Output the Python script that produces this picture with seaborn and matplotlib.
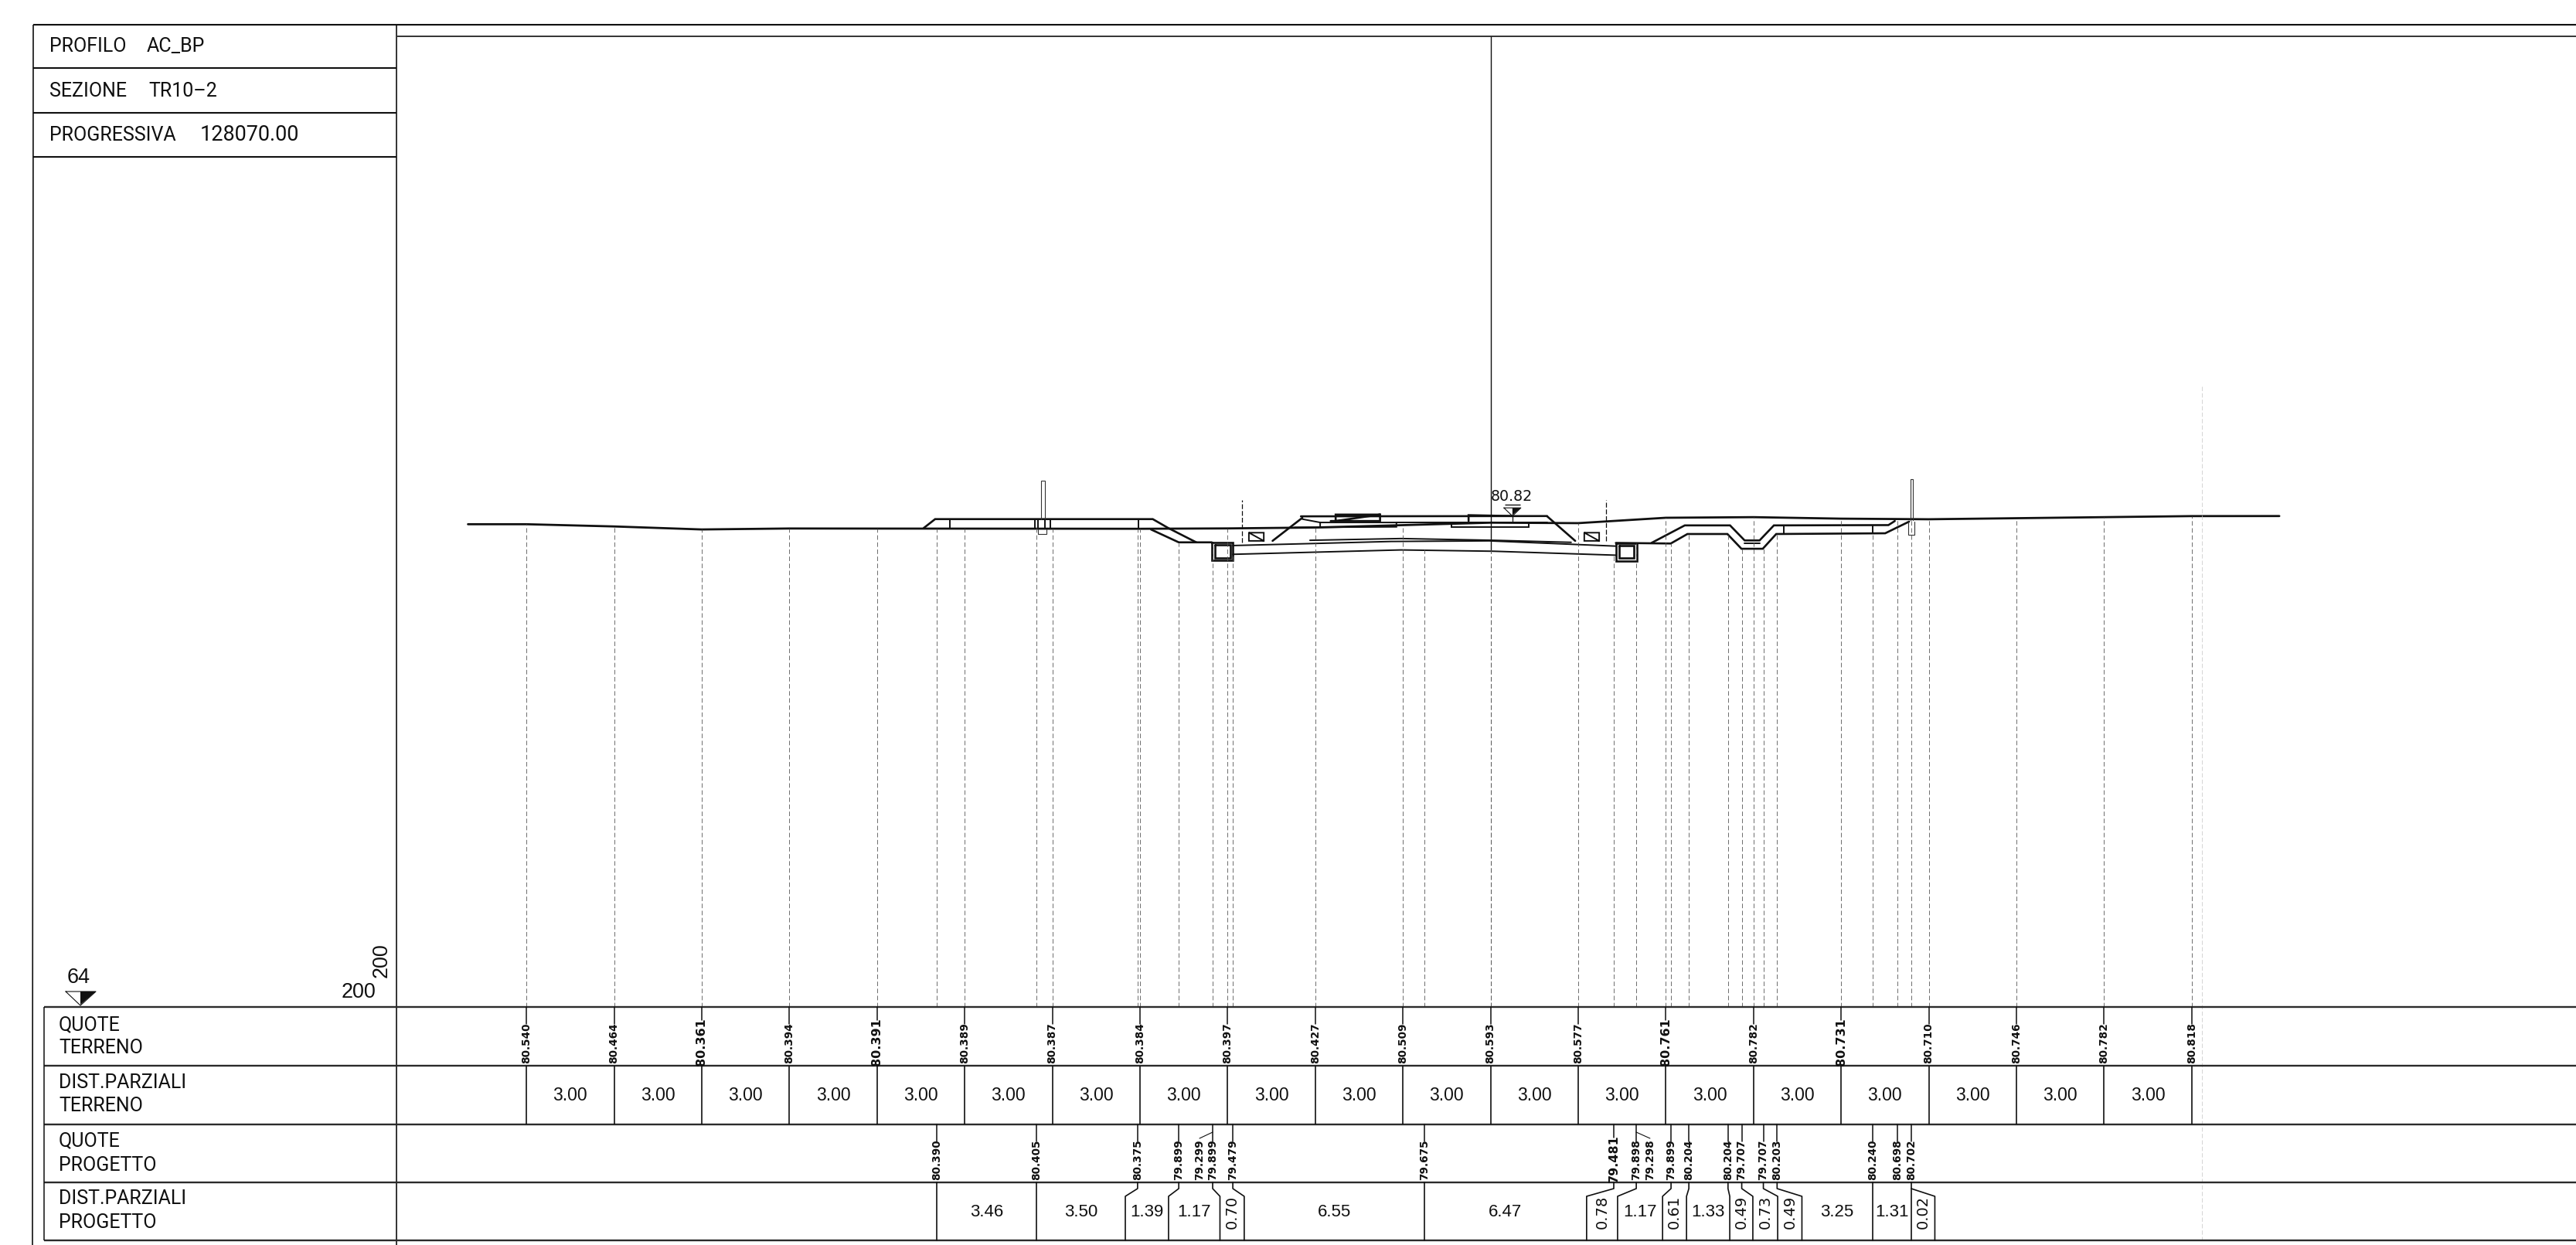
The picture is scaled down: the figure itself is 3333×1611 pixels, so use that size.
import matplotlib
matplotlib.use("Agg")
import matplotlib.pyplot as plt
import seaborn as sns
import pandas as pd

# Sezione trasversale: offset dall'asse in metri, quote in metri
terrain_x = [-33, -30, -27, -24, -21, -18, -15, -12, -9, -6, -3, 0, 3, 6, 9, 12, 15, 18, 21, 24]
terrain_z = [80.540, 80.464, 80.361, 80.394, 80.391, 80.389, 80.387, 80.384, 80.397, 80.427,
             80.509, 80.593, 80.577, 80.761, 80.782, 80.731, 80.710, 80.746, 80.782, 80.818]
terrain_labels = ["80.540", "80.464", "80.361", "80.394", "80.391", "80.389", "80.387", "80.384",
                  "80.397", "80.427", "80.509", "80.593", "80.577", "80.761", "80.782", "80.731",
                  "80.710", "80.746", "80.782", "80.818"]
big_labels = ["80.361", "80.391", "80.761", "80.731", "79.481"]
terrain_dist = [3.00] * 19
ground_start = (-35.0, 80.54)
ground_end = (27.0, 80.82)

project_x = [-18.95, -15.53, -12.08, -10.67, -9.51, -8.82, -2.26, 4.22, 4.99, 6.18, 6.79,
             8.13, 8.60, 9.34, 9.81, 13.08, 13.92, 14.40]
project_z = [80.390, 80.405, 80.375, 79.899, 79.899, 79.479, 79.675, 79.481, 79.898, 79.899,
             80.204, 80.204, 79.707, 79.707, 80.203, 80.240, 80.698, 80.702]
project_labels = ["80.390", "80.405", "80.375", "79.899", "79.899", "79.479", "79.675", "79.481",
                  "79.898", "79.899", "80.204", "80.204", "79.707", "79.707", "80.203", "80.240",
                  "80.698", "80.702"]
# quote con richiamo obliquo
extra_x = [-9.96, 5.46]
extra_from = [-9.51, 4.99]
extra_labels = ["79.299", "79.298"]

# parziali progetto: bordo alto, bordo basso delle caselle
cell_top = [-18.95, -15.53, -12.08, -10.67, -9.51, -8.82, -2.26, 4.22, 4.99, 6.18, 6.79,
            8.13, 8.60, 9.34, 9.81, 13.08, 14.40]
cell_bottom = [-18.95, -15.53, -12.50, -11.02, -9.26, -8.43, -2.26, 3.29, 4.35, 5.89, 6.71,
               8.19, 8.98, 9.83, 10.66, 13.08, 14.40]
cell_last = 15.21
project_dist = [3.46, 3.50, 1.39, 1.17, 0.70, 6.55, 6.47, 0.78, 1.17, 0.61, 1.33, 0.49, 0.73,
                0.49, 3.25, 1.31, 0.02]

# geometria del rilevato
berm_l_x = [-19.40, -19.01, -11.56, -11.03, -10.07]
berm_l_z = [80.41, 80.715, 80.715, 80.41, 79.92]
ditch_l_x = [-11.62, -10.67, -9.54]
ditch_l_z = [80.36, 79.92, 79.92]
slope_l_x = [-7.46, -6.44]
slope_l_z = [79.97, 80.76]
slope_r_x = [1.94, 2.90]
slope_r_z = [80.81, 79.97]
top_x = [-6.49, 1.94]
top_z = [80.81, 80.82]
sub1_x = [-6.44, -5.83, -5.83]
sub1_z = [80.715, 80.60, 80.45]
sub2_x = [-6.71, -3.22, -3.22, -5.83]
sub2_z = [80.43, 80.45, 80.60, 80.60]
sub3_x = [-3.22, 1.94]
sub3_z = [80.60, 80.60]
rail1_x = [-5.47, -3.78, -3.78, -5.30, -5.30, -3.78]
rail1_z = [80.65, 80.65, 80.87, 80.87, 80.65, 80.87]
rail2_x = [-0.75, -0.75, 0.75]
rail2_z = [80.65, 80.85, 80.82]
slab_x = [-1.33, -1.33, 1.32, 1.32]
slab_z = [80.54, 80.43, 80.43, 80.60]
arch1_x = [-6.18, -3.06, 0.12, 2.76]
arch1_z = [79.99, 80.05, 79.99, 79.92]
arch2_x = [-8.82, -6.04, -3.40, -0.04, 4.29]
arch2_z = [79.81, 79.88, 79.95, 79.97, 79.79]
arch3_x = [-8.82, -3.06, 0.12, 4.29]
arch3_z = [79.51, 79.66, 79.615, 79.48]
ditch_r_up_x = [5.51, 6.65, 8.20, 8.70, 9.21, 9.70, 13.62, 13.84]
ditch_r_up_z = [79.90, 80.50, 80.50, 79.985, 79.985, 80.50, 80.51, 80.65]
ditch_r_lo_x = [4.29, 6.17, 6.74, 8.11, 8.59, 9.32, 9.78, 13.51, 14.33]
ditch_r_lo_z = [79.90, 79.88, 80.205, 80.205, 79.70, 79.70, 80.205, 80.23, 80.63]
ditch_r_in_x = [8.68, 9.21]
ditch_r_in_z = [79.88, 79.88]

box_l_x = [-9.54, -8.82, -8.82, -9.54, -9.54]
box_l_z = [79.92, 79.92, 79.31, 79.31, 79.92]
box_li_x = [-9.44, -8.91, -8.91, -9.44, -9.44]
box_li_z = [79.83, 79.83, 79.39, 79.39, 79.83]
box_r_x = [4.29, 5.02, 5.02, 4.29, 4.29]
box_r_z = [79.90, 79.90, 79.28, 79.28, 79.90]
box_ri_x = [4.40, 4.91, 4.91, 4.40, 4.40]
box_ri_z = [79.81, 79.81, 79.39, 79.39, 79.81]
cab_l_x = [-8.27, -7.76, -7.76, -8.27, -8.27, -7.76]
cab_l_z = [80.25, 80.25, 79.97, 79.97, 80.25, 79.97]
cab_r_x = [3.21, 3.72, 3.72, 3.21, 3.21, 3.72]
cab_r_z = [80.25, 80.25, 79.97, 79.97, 80.25, 79.97]

mast_l_x = [-15.38, -15.38, -15.26, -15.26]
mast_l_z = [80.715, 82.04, 82.04, 80.715]
mast_r_x = [14.37, 14.37, 14.46, 14.46]
mast_r_z = [80.69, 82.08, 82.08, 80.69]
found_l_x = [-15.48, -15.48, -15.20, -15.20]
found_l_z = [80.36, 80.21, 80.21, 80.36]
found_r_x = [14.31, 14.31, 14.52, 14.52]
found_r_z = [80.63, 80.19, 80.19, 80.63]
posts_x = [-18.50, -15.59, -15.48, -15.26, -15.06, -12.06, 10.05, 13.09]
posts_top = [80.715, 80.715, 80.715, 80.715, 80.715, 80.715, 80.50, 80.51]
posts_bot = [80.41, 80.39, 80.39, 80.39, 80.39, 80.39, 80.205, 80.23]
fence_x = [-8.50, 3.95]
fence_top = [81.38, 81.38]
fence_bot = [79.92, 79.97]

X0, Z0, S = 1928.5, 80.39, 37.8
W, H = 3333, 1611


def xm(px):
    return (px - X0) / S


def zm(py):
    return Z0 + (684 - py) / S


sns.set_style("white")
plt.rcParams["font.family"] = ["Roboto", "DejaVu Sans"]
INK = "#101010"

fig = plt.figure(figsize=(W / 100, H / 100), dpi=100, facecolor="white")
ax = fig.add_axes([0, 0, 1, 1])


def poly(xs, zs, lw=1.7, color=INK):
    df = pd.DataFrame({"x": xs, "z": zs})
    sns.lineplot(data=df, x="x", y="z", sort=False, estimator=None, color=color, lw=lw,
                 ax=ax, legend=False, solid_joinstyle="miter")


def frame(x0, y0, x1, y1, lw=1.0, color=INK, **kw):
    ax.plot([xm(x0), xm(x1)], [zm(y0), zm(y1)], color=color, lw=lw, solid_capstyle="butt", **kw)


def label(x, y, s, size_px, **kw):
    kw.setdefault("ha", "left")
    kw.setdefault("va", "center")
    ax.text(xm(x), zm(y), s, fontsize=size_px * 0.72, color=INK, **kw)


# terreno
ground = pd.DataFrame({"offset": [ground_start[0]] + terrain_x + [ground_end[0]],
                       "quota": [ground_start[1]] + terrain_z + [ground_end[1]]})
sns.lineplot(data=ground, x="offset", y="quota", estimator=None, sort=False, color=INK, lw=2.0,
             ax=ax, legend=False)

# rilevato e fossi
for xs, zs in [(berm_l_x, berm_l_z), (ditch_l_x, ditch_l_z), (slope_l_x, slope_l_z),
               (slope_r_x, slope_r_z), (top_x, top_z), (ditch_r_up_x, ditch_r_up_z),
               (ditch_r_lo_x, ditch_r_lo_z), (box_l_x, box_l_z), (box_li_x, box_li_z),
               (box_r_x, box_r_z), (box_ri_x, box_ri_z), (rail1_x, rail1_z), (rail2_x, rail2_z)]:
    poly(xs, zs, lw=1.9)
for xs, zs in [(sub1_x, sub1_z), (sub2_x, sub2_z), (sub3_x, sub3_z), (slab_x, slab_z),
               (arch1_x, arch1_z), (arch2_x, arch2_z), (arch3_x, arch3_z),
               (ditch_r_in_x, ditch_r_in_z), (cab_l_x, cab_l_z), (cab_r_x, cab_r_z)]:
    poly(xs, zs, lw=1.4)
for xs, zs in [(mast_l_x, mast_l_z), (mast_r_x, mast_r_z), (found_l_x, found_l_z), (found_r_x, found_r_z)]:
    poly(xs, zs, lw=0.8, color="#333333")
ax.vlines(posts_x, posts_bot, posts_top, color=INK, lw=1.4)
ax.vlines(fence_x, fence_bot, fence_top, color=INK, lw=0.9, linestyles=(0, (5, 2)))

# marca quota 80.82
ax.fill([0.75, 1.04, 0.75], [80.85, 81.10, 81.10], color=INK, lw=0)
ax.plot([0.46, 1.04, 0.75, 0.46], [81.10, 81.10, 80.82, 81.10], color=INK, lw=0.8)
frame(1947, 652.7, 1967, 652.7, lw=1.0)
ax.plot([0.75, 0.75], [80.82, 80.65], color=INK, lw=0.9)
label(1955.5, 642.5, "80.82", 19, ha="center", family="DejaVu Sans")

# linee di richiamo tratteggiate
dash = (0, (7, 4))
ax.vlines(terrain_x, zm(1303), terrain_z, color="#555555", lw=0.6, linestyles=dash)
ax.vlines(project_x, zm(1303), project_z, color="#555555", lw=0.6, linestyles=dash)
frame(X0, 47, X0, 712, lw=1.0)
ax.vlines([0], zm(1303), zm(712), color="#555555", lw=0.6, linestyles=dash)
frame(2849, 500, 2849, 1605, lw=0.5, color="#c4c4c4", linestyle=(0, (8, 4)))

# cartiglio
frame(43, 32, W, 32, lw=1.5)
frame(514, 47, W, 47, lw=1.2)
frame(43, 32, 42, H, lw=1.2)
frame(513, 32, 513, H, lw=1.2)
for y in [88, 146, 203]:
    frame(43, y, 513, y, lw=1.5)
label(64, 60, "PROFILO", 25)
label(190, 60, "AC_BP", 25)
label(64, 118, "SEZIONE", 25)
label(192, 118, "TR10–2", 25)
label(64, 175, "PROGRESSIVA", 25)
label(259, 175, "128070.00", 27)

# datum e scale
label(102, 1265, "64", 27, ha="center", family="Liberation Sans")
ax.fill([xm(104), xm(124), xm(104)], [zm(1283), zm(1283), zm(1300)], color=INK, lw=0)
ax.plot([xm(85), xm(124), xm(104), xm(85)], [zm(1283), zm(1283), zm(1301), zm(1283)], color=INK, lw=0.8)
label(486, 1284, "200", 27, ha="right", family="Liberation Sans")
label(494, 1243, "200", 27, ha="center", rotation=90, family="Liberation Sans")

# tabella
for y in [1303, 1379, 1455, 1530, 1605]:
    frame(57, y, W, y, lw=1.7, color="#2b2b2b")
frame(57, 1303, 57, 1605, lw=1.1)
for y, s in [(1326, "QUOTE"), (1356, "TERRENO"), (1401, "DIST.PARZIALI"), (1431, "TERRENO"),
             (1476, "QUOTE"), (1508, "PROGETTO"), (1551, "DIST.PARZIALI"), (1582, "PROGETTO")]:
    label(76, y, s, 25)


def station_label(x, s, bottom, top, row_top):
    big = s in big_labels
    ax.plot([x, x], [zm(row_top), zm(top - 5 if big else top)], color=INK, lw=1.1)
    ax.text(x, zm(bottom + 3 if big else bottom), s, rotation=90, ha="center", va="bottom",
            fontsize=(11.5 if big else 9.8), fontweight="bold", family="DejaVu Sans", color=INK)


for x, s in zip(terrain_x, terrain_labels):
    station_label(x, s, 1376, 1325, 1303)
ax.vlines(terrain_x, zm(1455), zm(1379), color=INK, lw=1.2)
for x0, x1, d in zip(terrain_x[:-1], terrain_x[1:], terrain_dist):
    ax.text((x0 + x1) / 2, zm(1417), f"{d:.2f}", ha="center", va="center", fontsize=16.5,
            family="Liberation Sans", color=INK)

for x, s in zip(project_x, project_labels):
    station_label(x, s, 1527, 1477, 1455)
for x, x_from, s in zip(extra_x, extra_from, extra_labels):
    ax.plot([x_from, x], [zm(1465), zm(1473)], color=INK, lw=0.8)
    ax.text(x, zm(1527), s, rotation=90, ha="center", va="bottom", fontsize=9.8,
            fontweight="bold", family="DejaVu Sans", color=INK)

# caselle dei parziali di progetto
for top, bot in zip(cell_top[:-1], cell_bottom[:-1]):
    ax.plot([top, top, bot, bot], [zm(1530), zm(1538), zm(1548), zm(1605)], color=INK, lw=1.2)
ax.plot([cell_top[-1], cell_top[-1]], [zm(1530), zm(1605)], color=INK, lw=1.2)
ax.plot([cell_top[-1], cell_last, cell_last], [zm(1538), zm(1548), zm(1605)], color=INK, lw=1.2)
edges = cell_bottom + [cell_last]
for x0, x1, d in zip(edges[:-1], edges[1:], project_dist):
    if d < 1:
        ax.text((x0 + x1) / 2, zm(1568), f"{d:.2f}", rotation=90, ha="center", va="center",
                fontsize=14, family="DejaVu Sans", color=INK)
    else:
        ax.text((x0 + x1) / 2, zm(1568), f"{d:.2f}", ha="center", va="center", fontsize=16,
                family="Liberation Sans", color=INK)

ax.set_xlim(xm(0), xm(W))
ax.set_ylim(zm(H), zm(0))
ax.axis("off")
fig.savefig("out.png", dpi=100, facecolor="white")
